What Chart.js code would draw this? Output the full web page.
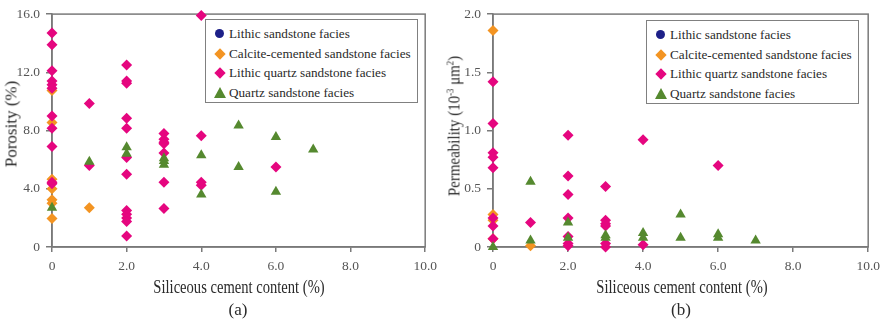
<!DOCTYPE html>
<html>
<head>
<meta charset="utf-8">
<script src="https://cdn.jsdelivr.net/npm/chart.js@4.4.1/dist/chart.umd.min.js"></script>
<style>
  body { margin: 0; background: #fff; width: 886px; height: 320px; overflow: hidden; position: relative; font-family: "Liberation Serif", serif; }
  .wrap { position: absolute; top: 0; width: 443px; height: 320px; }
  .legend { position: absolute; width: 211px; height: 82px; border: 1.5px solid #808080; background: #fff; box-sizing: content-box; }
  .item { position: absolute; left: 0; height: 20px; line-height: 20px; font-size: 13.2px; color: #2a2a2a; white-space: nowrap; }
  .item span.txt { position: absolute; left: 23px; top: 0; }
  .mk { position: absolute; }
  .mk.circle { width: 9px; height: 9px; border-radius: 50%; left: 9px; top: 5px; }
  .mk.rectRot { width: 8px; height: 8px; transform: rotate(45deg); left: 10px; top: 6px; }
  .mk.triangle { width: 0; height: 0; border-left: 6px solid transparent; border-right: 6px solid transparent; left: 8px; top: 4px; }
  .title { position: absolute; white-space: nowrap; color: #2a2a2a; line-height: 1; }
  .xt { font-size: 18px; transform: translate(-50%, -50%) scaleX(0.81); }
  .sub { font-size: 17px; transform: translate(-50%, -50%); }
  .yt { font-size: 17px; }
  .yt sup { font-size: 10px; vertical-align: 6px; line-height: 0; }
</style>
</head>
<body>
<div class="wrap" style="left:0">
  <canvas id="chartA" width="443" height="320"></canvas>
  <div class="legend" id="legendA" style="left:205px;top:19px"></div>
  <div class="title xt" style="left:239px;top:287px">Siliceous cement content (%)</div>
  <div class="title sub" style="left:238px;top:309px">(a)</div>
  <div class="title yt" style="left:11px;top:124px;transform:translate(-50%,-50%) rotate(-90deg)">Porosity (%)</div>
</div>
<div class="wrap" style="left:443px">
  <canvas id="chartB" width="443" height="320"></canvas>
  <div class="legend" id="legendB" style="left:203px;top:20px"></div>
  <div class="title xt" style="left:239px;top:287px">Siliceous cement content (%)</div>
  <div class="title sub" style="left:238px;top:309px">(b)</div>
  <div class="title yt" style="left:11px;top:126px;transform:translate(-50%,-50%) rotate(-90deg) scaleX(0.88)">Permeability (10<sup>-3</sup> μm<sup>2</sup>)</div>
</div>
<script>
// facies names and colours
const faciesNames = [
  "Lithic sandstone facies",
  "Calcite-cemented sandstone facies",
  "Lithic quartz sandstone facies",
  "Quartz sandstone facies",
];
const faciesColors = ["#1d2088", "#f39422", "#e5067f", "#55892f"];
const faciesShapes = ["circle", "rectRot", "rectRot", "triangle"];

// tick labels
const xTickValues = [0, 2, 4, 6, 8, 10];
const xTickLabels = ["0", "2.0", "4.0", "6.0", "8.0", "10.0"];
const porosityTickValues = [0, 4, 8, 12, 16];
const porosityTickLabels = ["0", "4.0", "8.0", "12.0", "16.0"];
const permTickValues = [0, 0.5, 1, 1.5, 2];
const permTickLabels = ["0", "0.5", "1.0", "1.5", "2.0"];

// (a) siliceous cement content (%) vs porosity (%)
const porosityLithic = [];
const porosityCalcite = [
  [0, 10.75], [0, 8.55], [0, 4.65], [0, 4.0], [0, 3.25], [0, 3.0], [0, 1.95], [1, 2.7],
];
const porosityLithicQuartz = [
  [0, 14.7], [0, 13.9], [0, 12.1], [0, 11.4], [0, 11.15], [0, 10.9], [0, 9.0], [0, 8.15], [0, 6.9], [0, 4.45], [0, 4.35],
  [1, 9.85], [1, 5.6],
  [2, 12.5], [2, 11.4], [2, 11.25], [2, 8.85], [2, 8.15], [2, 6.15], [2, 5.0], [2, 2.5], [2, 2.25], [2, 2.0], [2, 1.75], [2, 0.75],
  [3, 7.8], [3, 7.4], [3, 7.2], [3, 7.1], [3, 6.45], [3, 4.45], [3, 2.65],
  [4, 15.9], [4, 7.65], [4, 4.45], [4, 4.25],
  [6, 5.5],
];
const porosityQuartz = [
  [0, 2.7], [1, 5.85], [2, 6.85], [2, 6.4], [3, 6.1], [3, 5.9], [3, 5.65],
  [4, 6.3], [4, 3.6], [5, 8.35], [5, 5.5], [6, 7.55], [6, 3.8], [7, 6.7],
];

// (b) siliceous cement content (%) vs permeability (10^-3 um^2)
const permLithic = [];
const permCalcite = [
  [0, 1.86], [0, 0.28], [0, 0.23], [0, 0.07], [1, 0.01],
];
const permLithicQuartz = [
  [0, 1.42], [0, 1.06], [0, 0.81], [0, 0.77], [0, 0.68], [0, 0.25], [0, 0.18], [0, 0.07],
  [1, 0.21],
  [2, 0.96], [2, 0.61], [2, 0.45], [2, 0.25], [2, 0.09], [2, 0.03], [2, 0.01],
  [3, 0.52], [3, 0.23], [3, 0.2], [3, 0.18], [3, 0.03], [3, 0.0],
  [4, 0.92], [4, 0.02],
  [6, 0.7],
];
const permQuartz = [
  [0, 0.0], [1, 0.56], [1, 0.055], [2, 0.21], [2, 0.08], [3, 0.1], [3, 0.08],
  [4, 0.12], [4, 0.08], [5, 0.28], [5, 0.08], [6, 0.11], [6, 0.08], [7, 0.055],
];

const AXIS_COLOR = "#7a7a7a";

// draws the top and right sides of the plot frame
const frameBox = {
  id: "frameBox",
  beforeDatasetsDraw(chart) {
    const { ctx, chartArea: a } = chart;
    ctx.save();
    ctx.strokeStyle = AXIS_COLOR;
    ctx.lineWidth = 1.5;
    ctx.strokeRect(a.left, a.top, a.right - a.left, a.bottom - a.top);
    ctx.restore();
  },
};

function makeDatasets(seriesList) {
  return seriesList.map((pts, i) => {
    return {
      label: faciesNames[i],
      data: pts.map((p) => ({ x: p[0], y: p[1] })),
      pointStyle: faciesShapes[i],
      pointRadius: faciesShapes[i] === "triangle" ? 6 : 5.5,
      backgroundColor: faciesColors[i],
      borderColor: faciesColors[i],
      borderWidth: 0,
      clip: false,
      order: 3 - i, // quartz on top, then lithic quartz, calcite
    };
  });
}

function makeChart(id, seriesList, yMax, yTickValues, yTickLabels, axisWidth) {
  const ctx = document.getElementById(id).getContext("2d");
  return new Chart(ctx, {
    type: "scatter",
    data: { datasets: makeDatasets(seriesList) },
    plugins: [frameBox],
    options: {
      responsive: false,
      animation: false,
      layout: { padding: { top: 7, right: 15, left: 0, bottom: 0 } },
      plugins: { legend: { display: false }, tooltip: { enabled: false } },
      scales: {
        x: {
          type: "linear",
          min: 0,
          max: 10,
          afterBuildTicks: (scale) => {
            scale.ticks = xTickValues.map((v) => ({ value: v }));
          },
          afterFit: (scale) => {
            scale.height = 73;
          },
          ticks: {
            color: "#555",
            font: { family: "Liberation Serif", size: 13.5 },
            padding: 6,
            maxRotation: 0,
            callback: (v) => xTickLabels[xTickValues.indexOf(v)],
          },
          grid: { drawOnChartArea: false, drawTicks: true, tickLength: 5, color: AXIS_COLOR, lineWidth: 1.5 },
          border: { display: true, color: AXIS_COLOR, width: 1.5 },
        },
        y: {
          type: "linear",
          min: 0,
          max: yMax,
          afterBuildTicks: (scale) => {
            scale.ticks = yTickValues.map((v) => ({ value: v }));
          },
          afterFit: (scale) => {
            scale.width = axisWidth;
          },
          ticks: {
            color: "#555",
            font: { family: "Liberation Serif", size: 13.5 },
            padding: 6,
            callback: (v) => yTickLabels[yTickValues.indexOf(v)],
          },
          grid: { drawOnChartArea: false, drawTicks: true, tickLength: 6, color: AXIS_COLOR, lineWidth: 1.5 },
          border: { display: true, color: AXIS_COLOR, width: 1.5 },
        },
      },
    },
  });
}

function buildLegend(elId) {
  const el = document.getElementById(elId);
  faciesNames.forEach((name, i) => {
    const row = document.createElement("div");
    row.className = "item";
    row.style.top = 4 + i * 19.5 + "px";
    const mk = document.createElement("span");
    mk.className = "mk " + faciesShapes[i];
    if (faciesShapes[i] === "triangle") {
      mk.style.borderBottom = "11px solid " + faciesColors[i];
    } else {
      mk.style.background = faciesColors[i];
    }
    const txt = document.createElement("span");
    txt.className = "txt";
    txt.textContent = name;
    row.appendChild(mk);
    row.appendChild(txt);
    el.appendChild(row);
  });
}

makeChart(
  "chartA",
  [porosityLithic, porosityCalcite, porosityLithicQuartz, porosityQuartz],
  16, porosityTickValues, porosityTickLabels, 52
);
makeChart(
  "chartB",
  [permLithic, permCalcite, permLithicQuartz, permQuartz],
  2, permTickValues, permTickLabels, 50
);
buildLegend("legendA");
buildLegend("legendB");
</script>
</body>
</html>
